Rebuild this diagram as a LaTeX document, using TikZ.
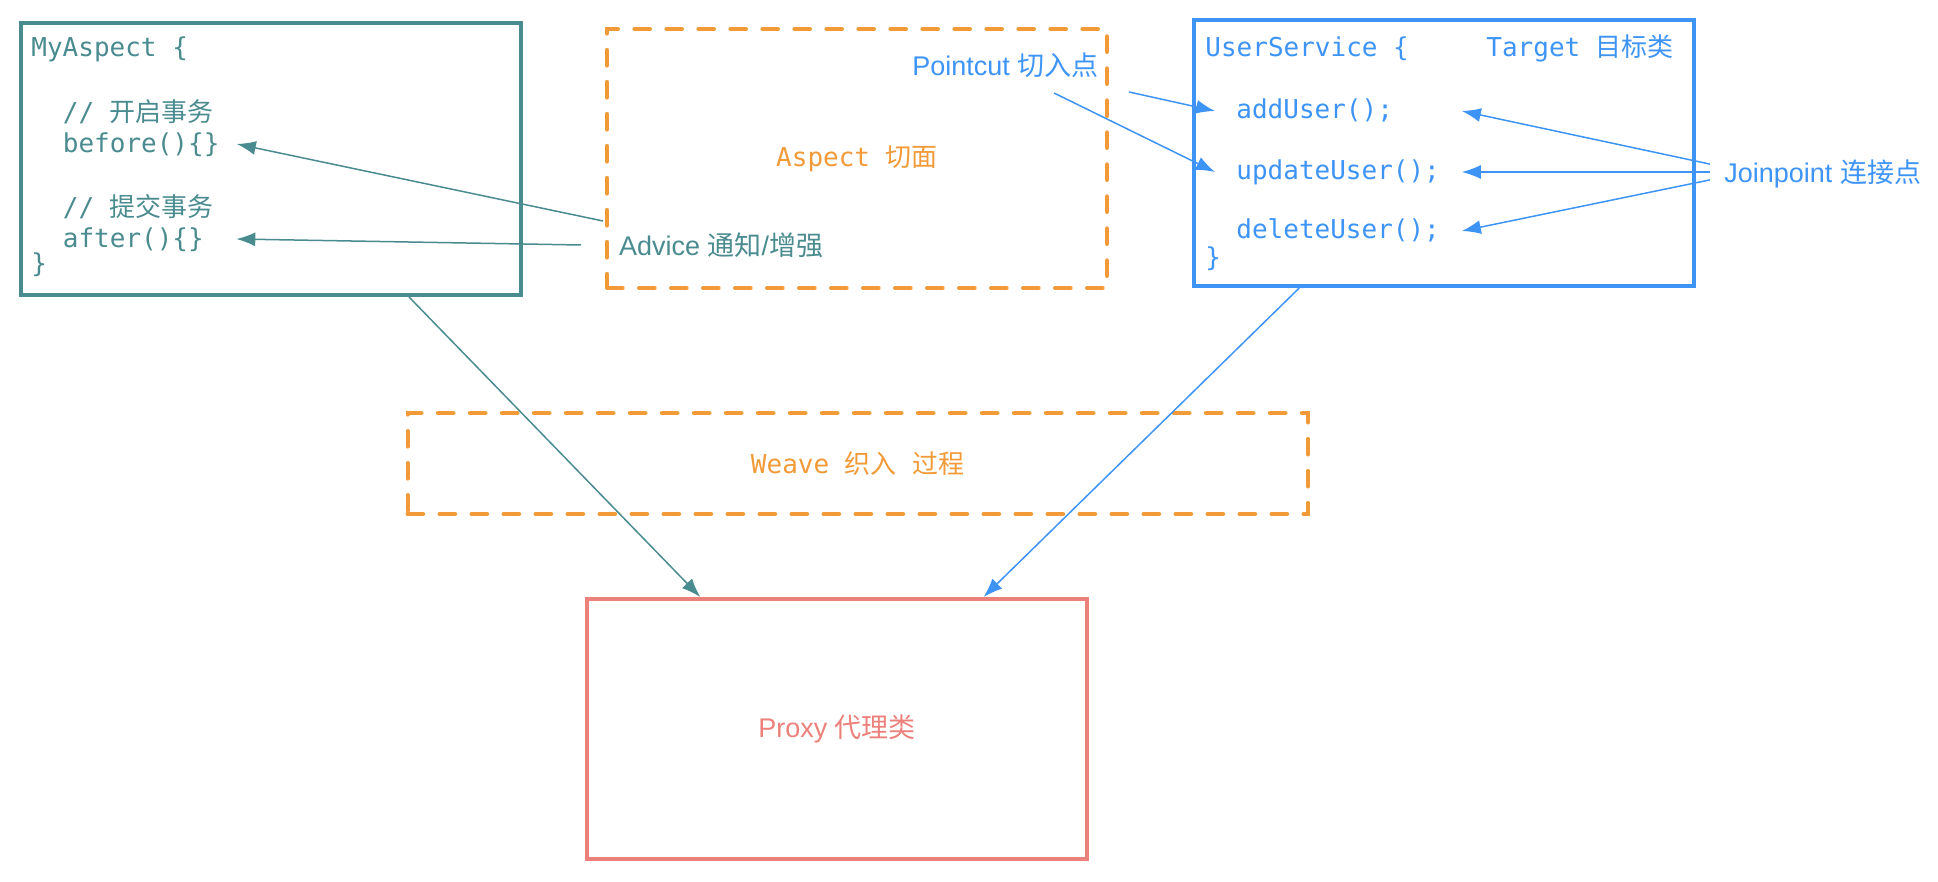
\documentclass[tikz,border=0pt]{standalone}
\usepackage{fontspec}
\setmainfont{Liberation Sans}
\newfontfamily\codefont{DejaVu Sans Mono}
\newfontfamily\cjk{Noto Sans CJK SC}
\usetikzlibrary{arrows.meta}

\definecolor{aspectteal}{HTML}{4A8B8F}
\definecolor{weaveorange}{HTML}{F29A38}
\definecolor{targetblue}{HTML}{3E94F5}
\definecolor{proxyred}{HTML}{EC807A}

\newcommand{\zh}[1]{{\cjk #1}}
\newcommand{\codestyle}{\codefont\fontsize{13}{16}\selectfont}
\newcommand{\sansstyle}{\fontsize{13.5}{16}\selectfont}

\begin{document}
\begin{tikzpicture}[x=0.5pt,y=-0.5pt,
  >={Latex[length=9.5pt,width=7pt]},
  solidbox/.style={draw,line width=2pt,inner sep=0pt,minimum width=250pt},
  dashbox/.style={solidbox,draw=weaveorange,dash pattern=on 7.8pt off 8.2pt,line cap=round},
  codetext/.style={font=\codestyle,inner sep=0pt,anchor=base west},
  sanstext/.style={font=\sansstyle,inner sep=0pt,anchor=base west},
  method/.style={codetext,text=targetblue,inner xsep=10.5pt,text width=102pt,
    text height=8pt,text depth=0pt,align=left},
  conn/.style={->,line width=0.75pt}]
\useasboundingbox (0,0) rectangle (1938,882);

% MyAspect
\node[solidbox,draw=aspectteal,minimum height=136pt] (myaspect) at (271,159) {};
\node[codetext,text=aspectteal] (aspecttitle) at (31,57) {MyAspect \{};
\node[codetext,text=aspectteal] (comment1) at (62.5,122) {// \zh{开启事务}};
\node[codetext,text=aspectteal,text width=86.75pt,text height=9pt,text depth=0pt,align=left] (before) at (62.5,153) {before()\{\}};
\node[codetext,text=aspectteal] (comment2) at (62.5,217) {// \zh{提交事务}};
\node[codetext,text=aspectteal,text width=86.5pt,text height=9pt,text depth=0pt,align=left] (after) at (62.5,248) {after()\{\}};
\node[codetext,text=aspectteal] (aspectclose) at (31,273) {\}};

% Aspect
\node[dashbox,minimum height=129.5pt,font=\codestyle,text=weaveorange] (aspect) at (857,158.5) {Aspect \zh{切面}};
\node[sanstext,text=targetblue] (pointcut) at (912,76) {Pointcut \zh{切入点}};
\node[sanstext,text=aspectteal] (advice) at (618.6,256) {Advice \zh{通知}/\zh{增强}};
\coordinate (advicetop) at (603,221);
\coordinate (advicemid) at (581,245);
\coordinate (pointcutright) at (1129,92);
\coordinate (pointcutleft) at (1054,93);

% UserService
\node[solidbox,draw=targetblue,minimum height=133pt] (userservice) at (1444,153) {};
\node[codetext,text=targetblue] (usertitle) at (1205,57) {UserService \{};
\node[codetext,text=targetblue] (target) at (1486,57) {Target \zh{目标类}};
\node[method] (adduser) at (1215,119) {addUser();};
\node[method] (updateuser) at (1215,180) {updateUser();};
\node[method] (deleteuser) at (1215,239) {deleteUser();};
\node[codetext,text=targetblue] (userclose) at (1205,267) {\}};
\node[sanstext,text=targetblue,inner xsep=7pt,text height=11pt,text depth=0pt] (joinpoint) at (1710,183) {Joinpoint \zh{连接点}};

% Weave + Proxy
\node[dashbox,minimum width=450.25pt,minimum height=50.5pt,font=\codestyle,text=weaveorange] (weave) at (857.75,463.5) {Weave \zh{织入} \zh{过程}};
\node[solidbox,draw=proxyred,minimum height=130pt,font=\sansstyle,text=proxyred] (proxy) at (837,729) {Proxy \zh{代理类}};

\draw[conn,aspectteal] (advicetop) -- (before.east);
\draw[conn,aspectteal] (advicemid) -- (after.east);
\draw[conn,targetblue] (pointcutright) -- (adduser.west);
\draw[conn,targetblue] (pointcutleft) -- (updateuser.west);
\draw[conn,targetblue] (joinpoint.176) -- (adduser.east);
\draw[conn,targetblue] (joinpoint.west) -- (updateuser.east);
\draw[conn,targetblue] (joinpoint.184) -- (deleteuser.east);
\draw[conn,aspectteal] (myaspect.-45) -- (proxy.136);
\draw[conn,targetblue] (userservice.-137) -- (proxy.42.5);
\end{tikzpicture}
\end{document}
